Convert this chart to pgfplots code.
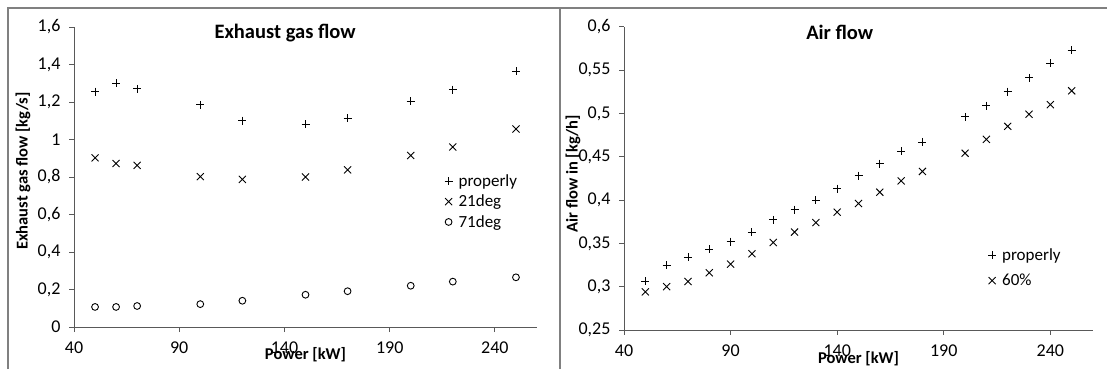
\documentclass[border=0pt]{standalone}
\usepackage{pgfplots}
\pgfplotsset{compat=1.18}
\usepackage{fontspec}
\setmainfont{Carlito}
\pgfplotsset{
  /pgf/number format/use comma,
  /pgf/number format/assume math mode=true,
  myaxis/.style={
    scale only axis, clip=false,
    axis x line*=bottom, axis y line*=left,
    tick align=outside, major tick length=5pt,
    axis line style={black!65, line width=0.9pt},
    every tick/.style={black!65, line width=0.9pt},
    ticklabel style={font=\fontsize{18}{21}\selectfont},
    xticklabel style={yshift=-6pt},
    yticklabel style={xshift=-5pt},
    xmin=40, xmax=260, xtick={40,90,140,190,240},
    xlabel={Power [kW]},
    xlabel style={at={(axis description cs:0.5,-0.093)}, anchor=center, font=\bfseries\fontsize{16.5}{20}\selectfont},
    ylabel style={anchor=center, font=\bfseries\fontsize{16.5}{20}\selectfont},
    legend cell align=left,
    legend image code/.code={\draw[#1] plot coordinates {(0pt,0pt)};},
    legend style={draw=none, fill=none, font=\fontsize{17}{20}\selectfont, inner sep=0pt, nodes={inner sep=2pt},
      /tikz/every odd column/.append style={column sep=4pt}},
  },
  pmark/.style={only marks, mark=+, mark size=4pt, black, mark options={line width=0.9pt}},
  xmarkst/.style={only marks, mark=x, mark size=5pt, black, mark options={line width=0.9pt}},
  omark/.style={only marks, mark=o, mark size=3.4pt, black, mark options={line width=0.9pt}},
}
\begin{document}
\begin{tikzpicture}
\useasboundingbox (0pt,0pt) rectangle (1107pt,369pt);
\draw[black!50, line width=1.3pt] (8pt,0pt) -- (8pt,361pt) -- (1107pt,361pt);
\draw[black!50, line width=1.3pt] (560pt,0pt) -- (560pt,361pt);

\begin{axis}[myaxis,
  at={(74pt,42pt)}, anchor=south west, width=463pt, height=300pt,
  ymin=0, ymax=1.6, ytick={0,0.2,0.4,0.6,0.8,1,1.2,1.4,1.6},
  ylabel={Exhaust gas flow [kg/s]},
  ylabel style={at={(axis description cs:-0.110,0.52)}},
  legend style={at={(axis description cs:0.80,0.515)}, anchor=north west, row sep=3pt},
]
\addplot[pmark] coordinates {(50,1.255) (60,1.30) (70,1.27) (100,1.185) (120,1.10) (150,1.082) (170,1.113) (200,1.203) (220,1.266) (250,1.364)};
\addlegendentry{properly}
\addplot[xmarkst] coordinates {(50,0.902) (60,0.872) (70,0.862) (100,0.802) (120,0.787) (150,0.800) (170,0.838) (200,0.915) (220,0.960) (250,1.056)};
\addlegendentry{21deg}
\addplot[omark] coordinates {(50,0.107) (60,0.107) (70,0.112) (100,0.122) (120,0.140) (150,0.172) (170,0.191) (200,0.220) (220,0.242) (250,0.265)};
\addlegendentry{71deg}
\node[font=\bfseries\fontsize{20.5}{24}\selectfont] at (axis description cs:0.456,0.98) {Exhaust gas flow};
\end{axis}

\begin{axis}[myaxis,
  at={(624pt,39pt)}, anchor=south west, width=469pt, height=303.3pt,
  ymin=0.25, ymax=0.6, ytick={0.25,0.3,0.35,0.4,0.45,0.5,0.55,0.6},
  ylabel={Air flow in [kg/h]},
  ylabel style={at={(axis description cs:-0.109,0.515)}},
  legend style={at={(axis description cs:0.776,0.275)}, anchor=north west, row sep=8pt},
]
\addplot[pmark] coordinates {(50,0.306) (60,0.325) (70,0.334) (80,0.343) (90,0.352) (100,0.363) (110,0.377) (120,0.389) (130,0.400) (140,0.413) (150,0.428) (160,0.442) (170,0.456) (180,0.467) (200,0.496) (210,0.509) (220,0.525) (230,0.541) (240,0.558) (250,0.573)};
\addlegendentry{properly}
\addplot[xmarkst] coordinates {(50,0.294) (60,0.300) (70,0.306) (80,0.316) (90,0.326) (100,0.338) (110,0.351) (120,0.363) (130,0.374) (140,0.386) (150,0.396) (160,0.409) (170,0.422) (180,0.433) (200,0.454) (210,0.470) (220,0.485) (230,0.499) (240,0.510) (250,0.526)};
\addlegendentry{60\%}
\node[font=\bfseries\fontsize{20.5}{24}\selectfont] at (axis description cs:0.46,0.98) {Air flow};
\end{axis}
\end{tikzpicture}
\end{document}
